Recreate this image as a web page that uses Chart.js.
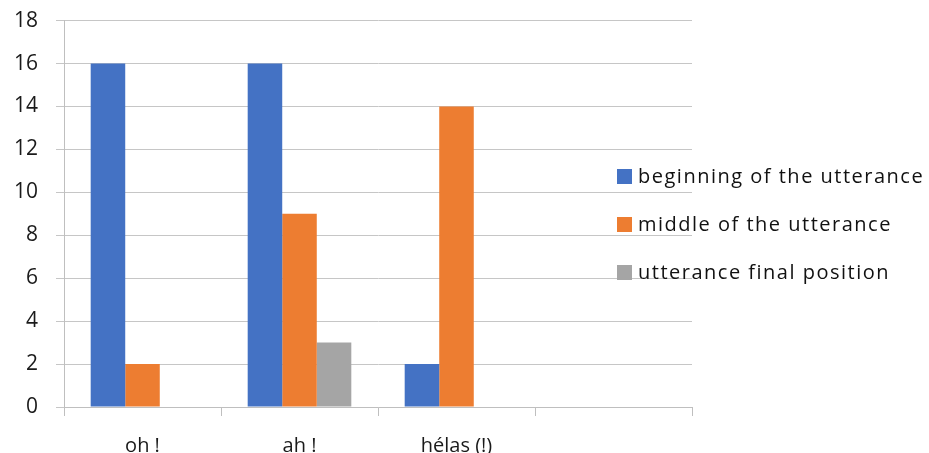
<!DOCTYPE html>
<html>
<head>
<meta charset="utf-8">
<script src="https://cdn.jsdelivr.net/npm/chart.js@4/dist/chart.umd.min.js"></script>
<style>
  html, body { margin: 0; padding: 0; background: #ffffff; overflow: hidden; }
  #wrap { width: 929px; height: 453px; overflow: hidden; position: relative; }
  #c { position: absolute; left: 0; top: -10px; }
</style>
</head>
<body>
<div id="wrap"><canvas id="c" width="929" height="500"></canvas></div>
<script>
// Interjections and where they occur in the utterance
const categories = ['oh !', 'ah !', 'hélas (!)', ''];
const seriesNames = ['beginning of the utterance', 'middle of the utterance', 'utterance final position'];
const beginning = [16, 16, 2, null];
const middle = [2, 9, 14, null];
const finalPos = [0, 3, 0, null];
const yTicks = [0, 2, 4, 6, 8, 10, 12, 14, 16, 18];

const colors = ['#4472C4', '#ED7D31', '#A5A5A5'];
const FONT = '"Open Sans", "Liberation Sans", sans-serif';

// Legend drawn at the right, over the end of the gridlines
const sideLegend = {
  id: 'sideLegend',
  afterDraw(chart) {
    const ctx = chart.ctx;
    ctx.save();
    ctx.font = '20px ' + FONT;
    ctx.letterSpacing = '1.5px';
    ctx.textBaseline = 'middle';
    ctx.textAlign = 'left';
    chart.data.datasets.forEach((ds, i) => {
      const cy = 186 + i * 48;
      ctx.fillStyle = ds.backgroundColor;
      ctx.fillRect(617, cy - 7, 15, 15);
      ctx.fillStyle = '#111111';
      ctx.fillText(ds.label, 638, cy + 1);
    });
    ctx.restore();
  }
};

new Chart(document.getElementById('c'), {
  type: 'bar',
  data: {
    labels: categories,
    datasets: [
      { label: seriesNames[0], data: beginning, backgroundColor: colors[0] },
      { label: seriesNames[1], data: middle, backgroundColor: colors[1] },
      { label: seriesNames[2], data: finalPos, backgroundColor: colors[2] }
    ]
  },
  options: {
    responsive: false,
    animation: false,
    events: [],
    layout: { padding: { left: 0, right: 237, top: 0, bottom: 14 } },
    datasets: { bar: { categoryPercentage: 0.66, barPercentage: 1.0, borderWidth: 0 } },
    plugins: { legend: { display: false }, tooltip: { enabled: false } },
    scales: {
      x: {
        grid: { display: true, offset: true, drawOnChartArea: false, drawTicks: true, tickLength: 9, color: '#bfbfbf' },
        border: { display: true, color: '#bfbfbf', width: 1 },
        ticks: { font: { family: FONT, size: 20 }, color: '#1a1a1a', padding: 18, maxRotation: 0 }
      },
      y: {
        min: 0,
        max: 18,
        afterBuildTicks(scale) { scale.ticks = yTicks.map(v => ({ value: v })); },
        afterFit(scale) { scale.width = 64; },
        grid: { color: '#c6c6c6', tickLength: 8, drawTicks: true },
        border: { display: true, color: '#bfbfbf', width: 1 },
        ticks: { font: { family: FONT, size: 21 }, color: '#1a1a1a', padding: 18 }
      }
    }
  },
  plugins: [sideLegend]
});
</script>
</body>
</html>
